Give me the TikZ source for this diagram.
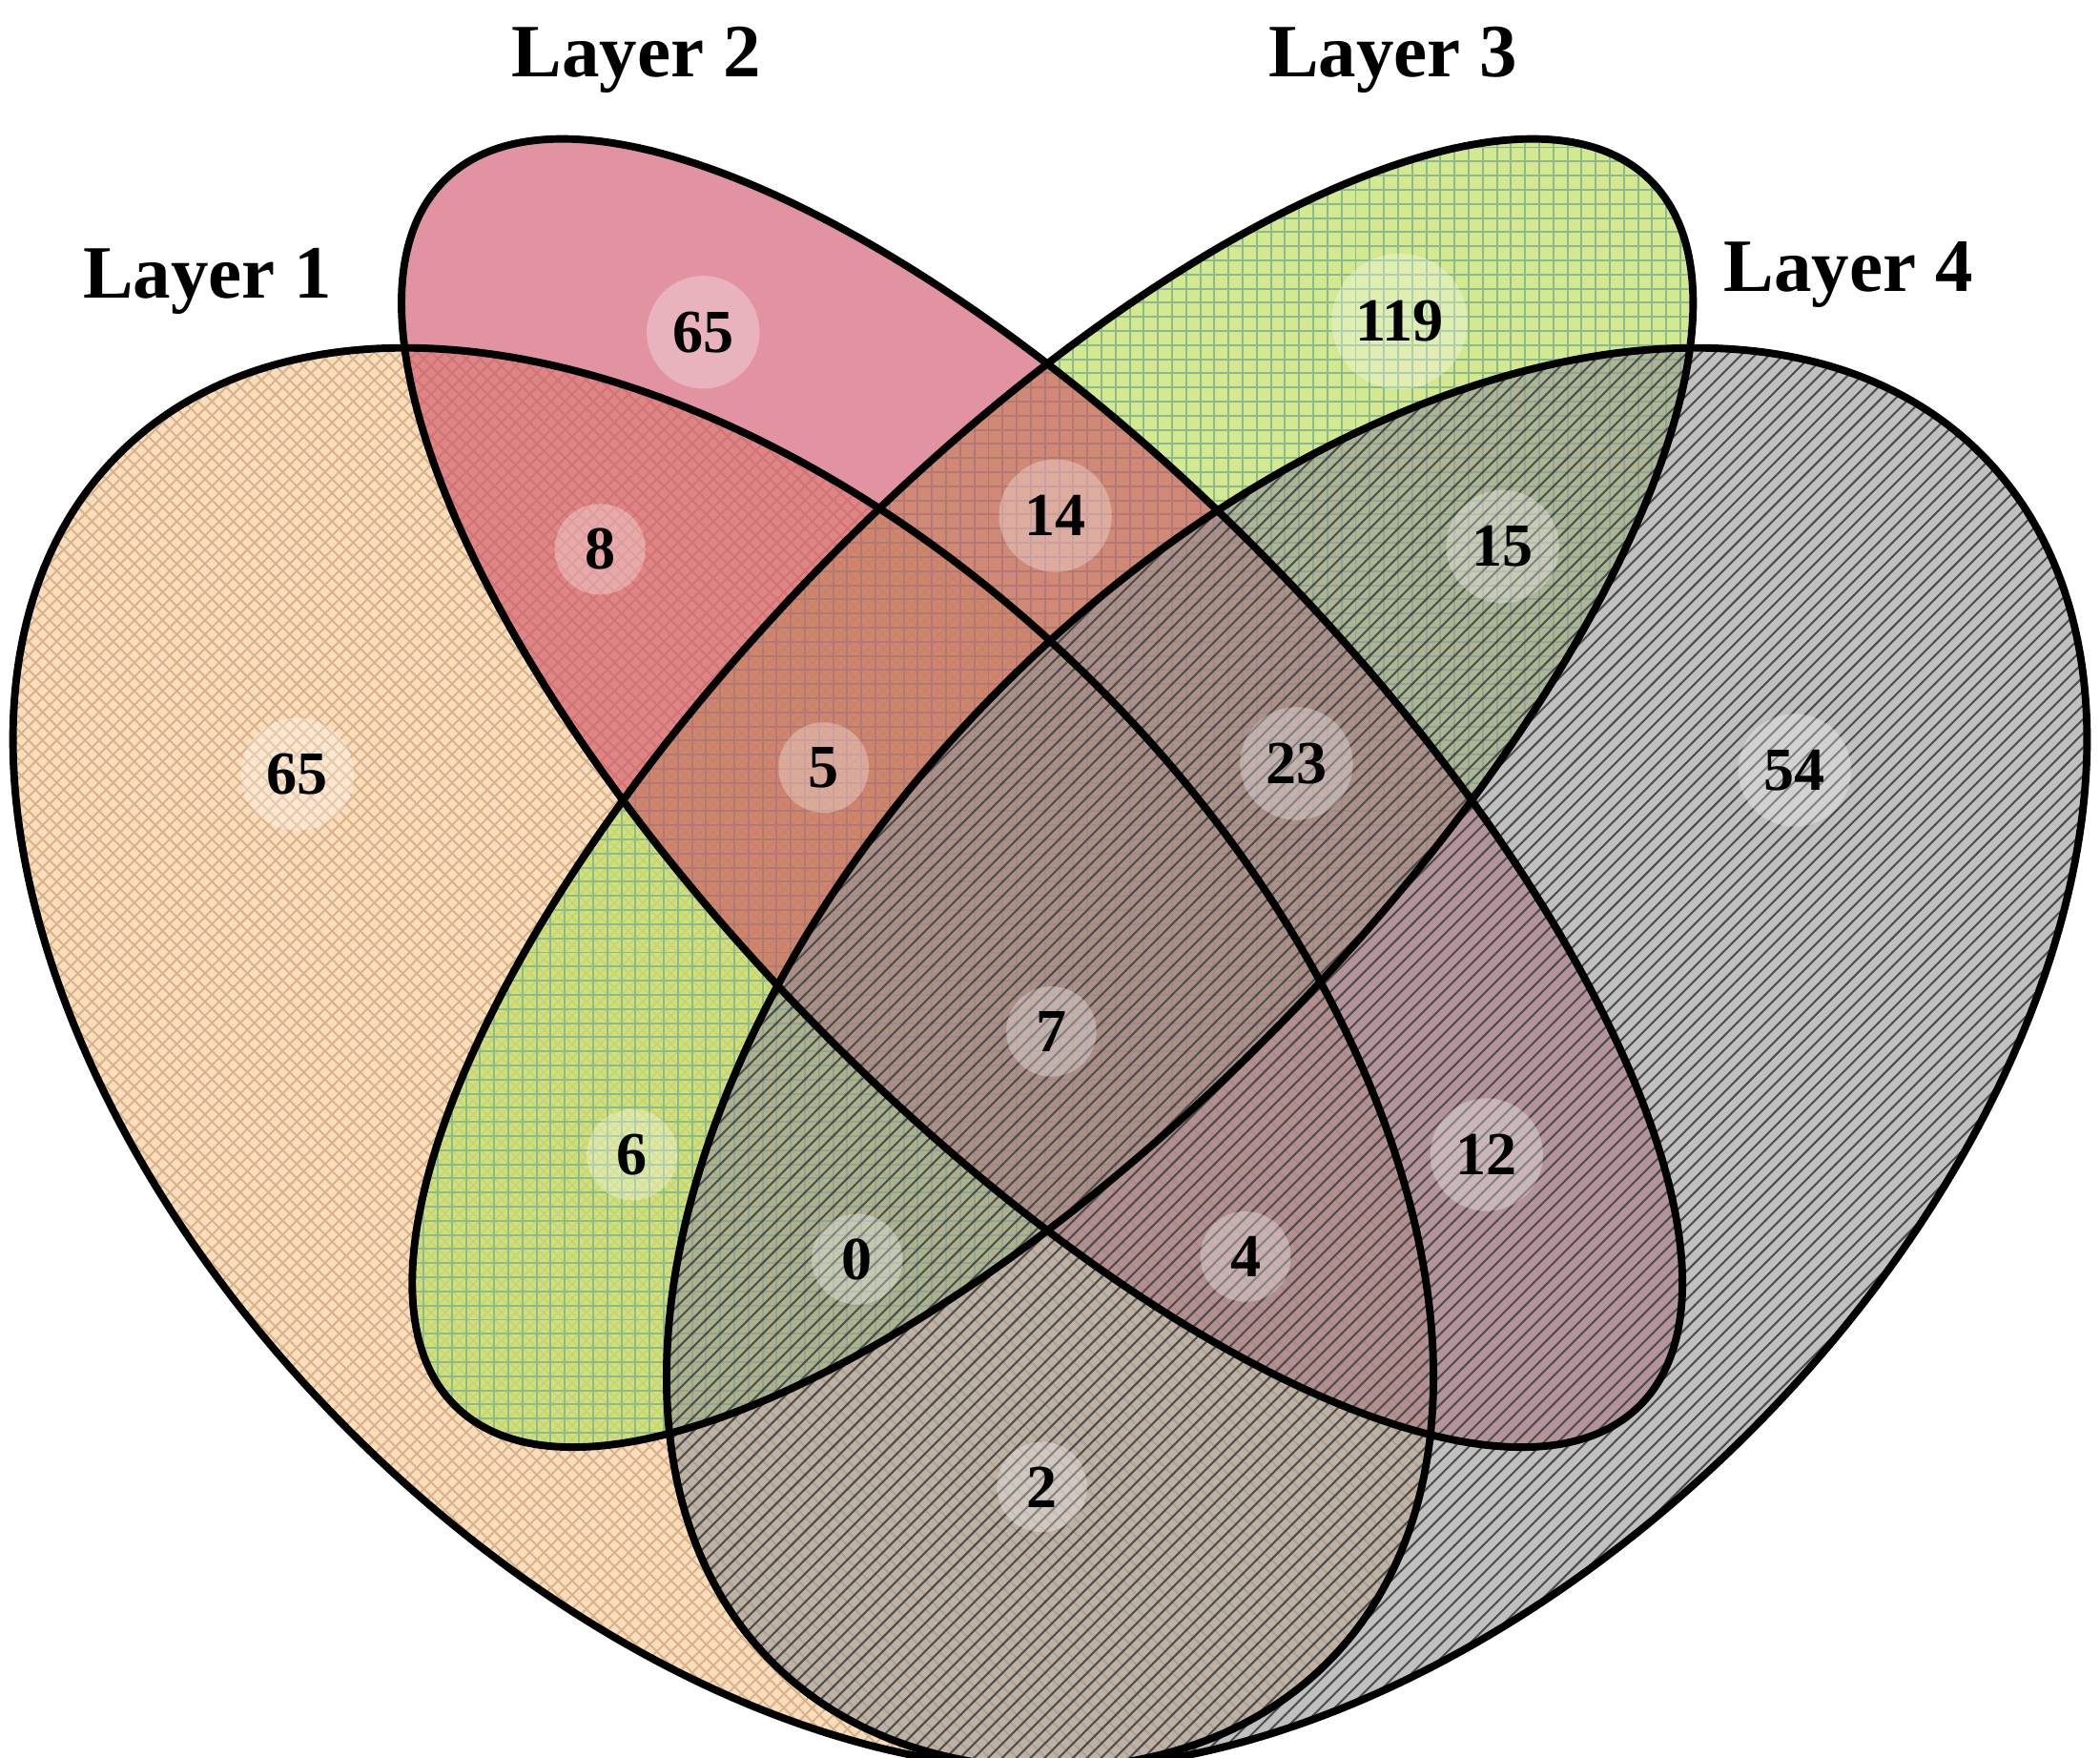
\documentclass[tikz,border=0pt]{standalone}
\usepackage{fontspec}
\setmainfont{Liberation Serif}
\usetikzlibrary{patterns}
\begin{document}
\begin{tikzpicture}
\useasboundingbox (0,0) rectangle (15.68,13.12);
\tikzset{
 venn/.style={draw=black, line width=1.6pt},
 lbl/.style={font=\fontsize{16}{19}\selectfont\bfseries},
 num/.style={font=\fontsize{13}{15}\selectfont\bfseries, circle, inner sep=3pt, fill=white, fill opacity=0.3, text opacity=1}
}
\definecolor{cA}{RGB}{250,222,188}
\definecolor{cB}{RGB}{205,75,100}
\definecolor{cC}{RGB}{195,225,105}
\definecolor{cD}{RGB}{150,150,150}
\def\eA{(5.40,5.22) ellipse[x radius=6.38, y radius=3.94, rotate=-45]}
\def\eB{(7.78,7.20) ellipse[x radius=6.39, y radius=2.42, rotate=-45.8]}
\def\eC{(7.86,7.20) ellipse[x radius=6.39, y radius=2.42, rotate=45.8]}
\def\eD{(10.28,5.22) ellipse[x radius=6.38, y radius=3.94, rotate=45]}
% fills
\fill[cA] \eA;
\fill[pattern=crosshatch, pattern color=brown!60] \eA;
\fill[cC, fill opacity=0.75] \eC;
\fill[pattern=grid, pattern color=green!40!black!45] \eC;
\fill[cB, fill opacity=0.6] \eB;
\fill[cD, fill opacity=0.6] \eD;
\fill[pattern=north east lines, pattern color=black!70] \eD;
% outlines
\draw[venn] \eA;
\draw[venn] \eB;
\draw[venn] \eC;
\draw[venn] \eD;
% labels
\node[lbl] (l1) at (1.55,11.02) {Layer 1};
\node[lbl] (l2) at (4.75,12.67) {Layer 2};
\node[lbl] (l3) at (10.40,12.67) {Layer 3};
\node[lbl] (l4) at (13.80,11.07) {Layer 4};
% numbers
\node[num] (n1) at (5.25,10.64) {65};
\node[num] (n2) at (10.45,10.72) {119};
\node[num] (n3) at (4.48,9.02) {8};
\node[num] (n4) at (7.88,9.27) {14};
\node[num] (n5) at (11.22,9.04) {15};
\node[num] (n6) at (2.22,7.34) {65};
\node[num] (n7) at (6.15,7.39) {5};
\node[num] (n8) at (9.68,7.42) {23};
\node[num] (n9) at (13.40,7.37) {54};
\node[num] (n10) at (7.85,5.42) {7};
\node[num] (n11) at (4.72,4.50) {6};
\node[num] (n12) at (11.10,4.50) {12};
\node[num] (n13) at (6.40,3.72) {0};
\node[num] (n14) at (9.30,3.74) {4};
\node[num] (n15) at (7.78,2.02) {2};
\end{tikzpicture}
\end{document}
